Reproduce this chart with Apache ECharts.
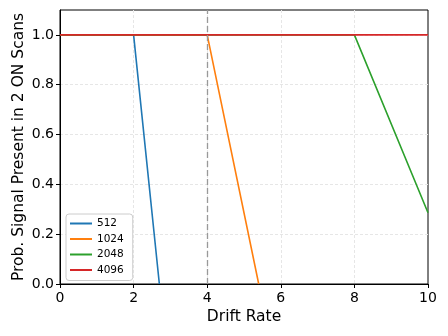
<!DOCTYPE html>
<html>
<head>
<meta charset="utf-8">
<script src="https://cdn.jsdelivr.net/npm/echarts@6/dist/echarts.min.js"></script>
<style>
  html, body { margin: 0; padding: 0; background: #fff; }
  #chart { width: 448px; height: 336px; }
</style>
</head>
<body>
<div id="chart"></div>
<script>
// values: [drift rate, probability]
var names = ['512', '1024', '2048', '4096'];
var colors = ['#1f77b4', '#ff7f0e', '#2ca02c', '#d62728'];
var s512 = [[0, 1], [2, 1], [2.7, 0]];
var s1024 = [[0, 1], [4, 1], [5.4, 0]];
var s2048 = [[0, 1], [8, 1], [10, 0.286]];
var s4096 = [[0, 1], [10, 1]];
var cutoff = 4;

var chart = echarts.init(document.getElementById('chart'), null, { renderer: 'canvas' });

function mkSeries(name, data, color) {
  return {
    name: name,
    type: 'line',
    data: data,
    symbol: 'none',
    lineStyle: { color: color, width: 1.6 },
    itemStyle: { color: color }
  };
}

var series = [
  mkSeries(names[0], s512, colors[0]),
  mkSeries(names[1], s1024, colors[1]),
  mkSeries(names[2], s2048, colors[2]),
  mkSeries(names[3], s4096, colors[3])
];
// vertical dashed marker
series[0].markLine = {
  silent: true,
  symbol: 'none',
  label: { show: false },
  lineStyle: { color: '#999', type: [6, 3], width: 1.3 },
  data: [{ xAxis: cutoff }]
};

var font = 'DejaVu Sans';

var option = {
  animation: false,
  textStyle: { fontFamily: font },
  grid: {
    left: 60, right: 20, top: 10, bottom: 52,
    outerBoundsMode: 'none',
    containLabel: false,
    show: true, borderColor: '#000', borderWidth: 1
  },
  legend: {
    orient: 'vertical',
    left: 66, top: 214,
    data: names,
    icon: 'rect',
    itemWidth: 22, itemHeight: 2,
    itemGap: 4.5,
    padding: [4, 9, 5, 4],
    backgroundColor: '#fff',
    borderColor: '#ccc',
    borderWidth: 1,
    borderRadius: 3,
    textStyle: { fontFamily: font, fontSize: 10.5, color: '#000' }
  },
  xAxis: {
    type: 'value',
    min: 0, max: 10, interval: 2,
    name: 'Drift Rate',
    nameLocation: 'middle',
    nameGap: 25,
    nameMoveOverlap: false,
    nameTextStyle: { fontFamily: font, fontSize: 15.5, color: '#000' },
    axisLine: { show: true, lineStyle: { color: '#000' } },
    axisTick: { show: true, length: 4, lineStyle: { color: '#000' } },
    axisLabel: { fontFamily: font, fontSize: 14, color: '#000', margin: 7 },
    splitLine: { show: true, showMinLine: false, showMaxLine: false, lineStyle: { color: '#e6e6e6', type: [3, 2] } }
  },
  yAxis: {
    type: 'value',
    min: 0, max: 1.1, interval: 0.2,
    name: 'Prob. Signal Present in 2 ON Scans',
    nameLocation: 'middle',
    nameGap: 33,
    nameMoveOverlap: false,
    nameTextStyle: { fontFamily: font, fontSize: 15.5, color: '#000' },
    axisLine: { show: true, lineStyle: { color: '#000' } },
    axisTick: { show: true, length: 4, lineStyle: { color: '#000' } },
    axisLabel: {
      fontFamily: font, fontSize: 14, color: '#000', margin: 6,
      showMaxLabel: false,
      formatter: function (v) { return v.toFixed(1); }
    },
    splitLine: { show: true, showMinLine: false, showMaxLine: false, lineStyle: { color: '#e6e6e6', type: [3, 2] } }
  },
  series: series
};

chart.setOption(option);
</script>
</body>
</html>
